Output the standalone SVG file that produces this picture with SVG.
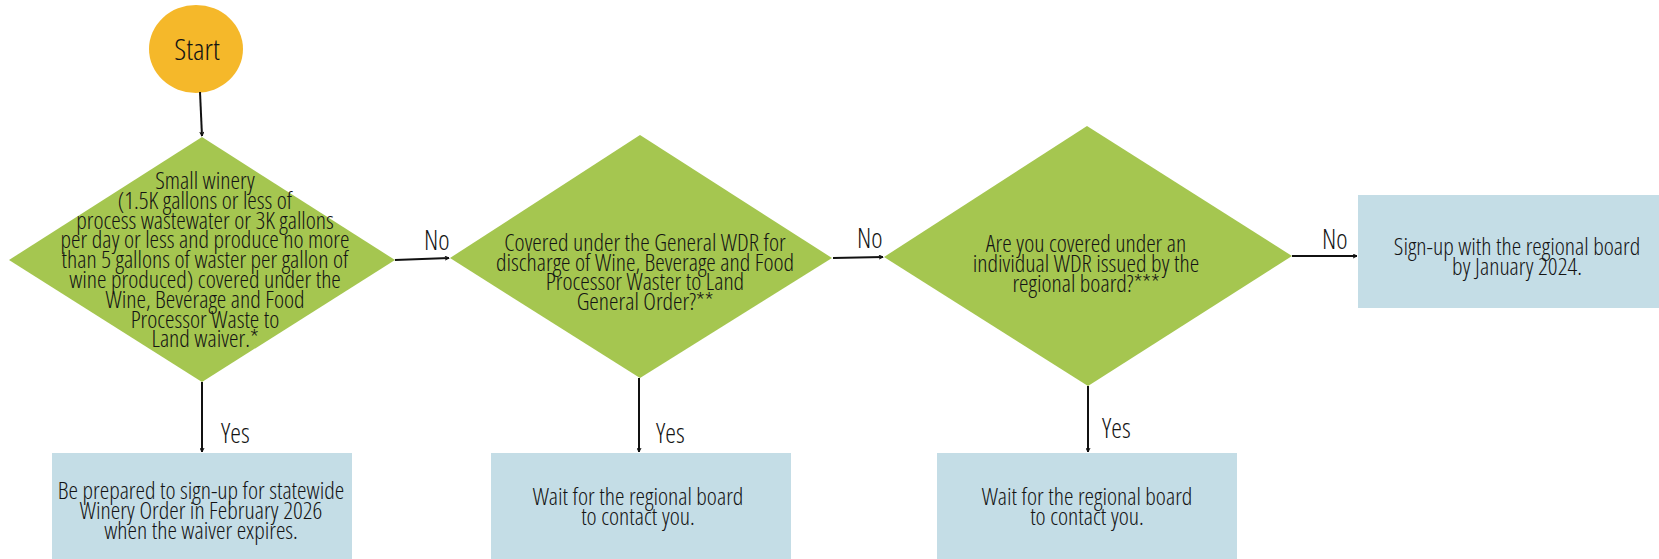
<svg xmlns="http://www.w3.org/2000/svg" width="1659" height="559" viewBox="0 0 1659 559">
<defs>
<style>
.t{font-family:"Open Sans","Liberation Sans",sans-serif;font-weight:300;font-stretch:75%;font-size:24px;fill:#141414;text-anchor:middle}
.lbl{font-family:"Open Sans","Liberation Sans",sans-serif;font-weight:300;font-stretch:75%;font-size:27px;fill:#141414}
.dia{fill:#A5C650}
.box{fill:#C4DDE6}
.c{stroke:#111;stroke-width:2;fill:none;marker-end:url(#ah)}
</style>
<marker id="ah" viewBox="0 0 10 10" refX="9" refY="5" markerWidth="5" markerHeight="5" orient="auto" markerUnits="userSpaceOnUse">
<path d="M1,1 L9,5 L1,9" fill="none" stroke="#111" stroke-width="2"/>
</marker>
</defs>
<rect width="1659" height="559" fill="#fff"/>
<g id="start">
<ellipse cx="196" cy="49" rx="47" ry="44" fill="#F5B82A"/>
<text class="t" x="197" y="60" style="font-size:30px">Start</text>
</g>
<g id="d1">
<polygon class="dia" points="202,137 395,260 202,382 9,260"/>
<text class="t" x="205" y="189"><tspan x="205">Small winery</tspan><tspan x="205" dy="19.8">(1.5K gallons or less of</tspan><tspan x="205" dy="19.8">process wastewater or 3K gallons</tspan><tspan x="205" dy="19.8">per day or less and produce no more</tspan><tspan x="205" dy="19.8">than 5 gallons of waster per gallon of</tspan><tspan x="205" dy="19.8">wine produced) covered under the</tspan><tspan x="205" dy="19.8">Wine, Beverage and Food</tspan><tspan x="205" dy="19.8">Processor Waste to</tspan><tspan x="205" dy="19.8">Land waiver.*</tspan></text>
</g>
<g id="d2">
<polygon class="dia" points="640,135 832,258 640,378 450,258"/>
<text class="t" x="645" y="251"><tspan x="645">Covered under the General WDR for</tspan><tspan x="645" dy="19.7">discharge of Wine, Beverage and Food</tspan><tspan x="645" dy="19.7">Processor Waster to Land</tspan><tspan x="645" dy="19.7">General Order?**</tspan></text>
</g>
<g id="d3">
<polygon class="dia" points="1087,126 1292,256 1088,386 884,257"/>
<text class="t" x="1086" y="252"><tspan x="1086">Are you covered under an</tspan><tspan x="1086" dy="20">individual WDR issued by the</tspan><tspan x="1086" dy="20">regional board?***</tspan></text>
</g>
<g id="b4">
<rect class="box" x="1358" y="195" width="301" height="113"/>
<text class="t" x="1517" y="255"><tspan x="1517">Sign-up with the regional board</tspan><tspan x="1517" dy="19.5">by January 2024.</tspan></text>
</g>
<g id="b1">
<rect class="box" x="52" y="453" width="300" height="106"/>
<text class="t" x="201" y="499"><tspan x="201">Be prepared to sign-up for statewide</tspan><tspan x="201" dy="20">Winery Order in February 2026</tspan><tspan x="201" dy="20">when the waiver expires.</tspan></text>
</g>
<g id="b2">
<rect class="box" x="491" y="453" width="300" height="106"/>
<text class="t" x="638" y="505"><tspan x="638">Wait for the regional board</tspan><tspan x="638" dy="20">to contact you.</tspan></text>
</g>
<g id="b3">
<rect class="box" x="937" y="453" width="300" height="106"/>
<text class="t" x="1087" y="505"><tspan x="1087">Wait for the regional board</tspan><tspan x="1087" dy="20">to contact you.</tspan></text>
</g>
<g id="connectors">
<path class="c" d="M200,92 L202,136"/>
<path class="c" d="M395,260 L449,258"/>
<path class="c" d="M833,258 L883,257"/>
<path class="c" d="M1292,256 L1357,256"/>
<path class="c" d="M202,382 L202,452"/>
<path class="c" d="M639,378 L639,452"/>
<path class="c" d="M1088,386 L1088,452"/>
<text class="lbl" x="424" y="250">No</text>
<text class="lbl" x="857" y="248">No</text>
<text class="lbl" x="1322" y="249">No</text>
<text class="lbl" x="221" y="443">Yes</text>
<text class="lbl" x="656" y="443">Yes</text>
<text class="lbl" x="1102" y="438">Yes</text>
</g>
</svg>
